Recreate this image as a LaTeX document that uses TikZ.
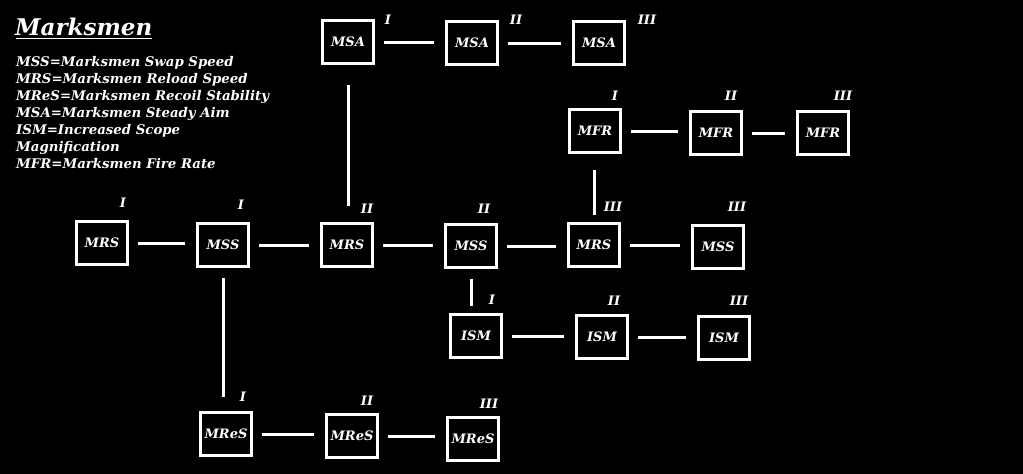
\documentclass[tikz,border=0pt]{standalone}
\usepackage{fontspec}
\setmainfont{DejaVu Serif}
\begin{document}
\begin{tikzpicture}[x=1pt,y=-1pt,
  bx/.style={draw=white,line width=3pt,minimum width=51pt,minimum height=43pt,inner sep=0pt,
    text=white,font=\fontsize{13}{15}\selectfont\bfseries\itshape},
  lvl/.style={text=white,font=\fontsize{13}{15}\selectfont\bfseries\itshape,inner sep=0pt},
  leg/.style={text=white,font=\fontsize{13.3}{15}\selectfont\bfseries\itshape,inner sep=0pt,anchor=base west},
  cn/.style={draw=white,line width=3pt,shorten <=9pt,shorten >=11pt}]
\fill[black] (0,0) rectangle (1023,474);
\useasboundingbox (0,0) rectangle (1023,474);
% title and legend
\node[text=white,font=\fontsize{23}{26}\selectfont\bfseries\itshape,inner sep=0pt,anchor=base west] (title) at (15,35) {Marksmen};
\draw[white,line width=1.8pt] (title.base west)++(1,3.5) coordinate (ul1) -- (ul1 -| title.base east);
\node[leg] (l1) at (16,66) {MSS=Marksmen Swap Speed};
\node[leg] (l2) at (16,83) {MRS=Marksmen Reload Speed};
\node[leg] (l3) at (16,100) {MReS=Marksmen Recoil Stability};
\node[leg] (l4) at (16,117) {MSA=Marksmen Steady Aim};
\node[leg] (l5) at (16,134) {ISM=Increased Scope};
\node[leg] (l6) at (16,151) {Magnification};
\node[leg] (l7) at (16,168) {MFR=Marksmen Fire Rate};
% boxes
\node[bx] (msa1) at (348,42) {MSA};
\node[bx] (msa2) at (472,43) {MSA};
\node[bx] (msa3) at (599,43) {MSA};
\node[bx] (mfr1) at (595,131) {MFR};
\node[bx] (mfr2) at (716,133) {MFR};
\node[bx] (mfr3) at (823,133) {MFR};
\node[bx] (mrs1) at (102,243) {MRS};
\node[bx] (mss1) at (223,245) {MSS};
\node[bx] (mrs2) at (347,245) {MRS};
\node[bx] (mss2) at (471,246) {MSS};
\node[bx] (mrs3) at (594,245) {MRS};
\node[bx] (mss3) at (718,247) {MSS};
\node[bx] (ism1) at (476,336) {ISM};
\node[bx] (ism2) at (602,337) {ISM};
\node[bx] (ism3) at (724,338) {ISM};
\node[bx] (mres1) at (226,434) {MReS};
\node[bx] (mres2) at (352,436) {MReS};
\node[bx] (mres3) at (473,439) {MReS};
% level labels
\node[lvl] (t1) at (388,20) {I};
\node[lvl] (t2) at (516,20) {II};
\node[lvl] (t3) at (647,20) {III};
\node[lvl] (t4) at (615,96) {I};
\node[lvl] (t5) at (731,96) {II};
\node[lvl] (t6) at (843,96) {III};
\node[lvl] (t7) at (123,203) {I};
\node[lvl] (t8) at (241,205) {I};
\node[lvl] (t9) at (367,209) {II};
\node[lvl] (t10) at (484,209) {II};
\node[lvl] (t11) at (613,207) {III};
\node[lvl] (t12) at (737,207) {III};
\node[lvl] (t13) at (492,300) {I};
\node[lvl] (t14) at (614,301) {II};
\node[lvl] (t15) at (739,301) {III};
\node[lvl] (t16) at (243,397) {I};
\node[lvl] (t17) at (367,401) {II};
\node[lvl] (t18) at (489,404) {III};
% connectors
\draw[cn] (msa1.east) -- (msa1.east -| msa2.west);
\draw[cn] (msa2.east) -- (msa2.east -| msa3.west);
\draw[cn,shorten <=20pt,shorten >=16pt] (msa1.south) -- (msa1.south |- mrs2.north);
\draw[cn] (mfr1.east) -- (mfr1.east -| mfr2.west);
\draw[cn] (mfr2.east) -- (mfr2.east -| mfr3.west);
\draw[cn,shorten <=16pt,shorten >=7pt] (mfr1.south -| mrs3.north) -- (mrs3.north);
\draw[cn] (mrs1.east) -- (mrs1.east -| mss1.west);
\draw[cn] (mss1.east) -- (mss1.east -| mrs2.west);
\draw[cn] (mrs2.east) -- (mrs2.east -| mss2.west);
\draw[cn] (mss2.east) -- (mss2.east -| mrs3.west);
\draw[cn] (mrs3.east) -- (mrs3.east -| mss3.west);
\draw[cn,shorten <=10pt,shorten >=7pt] (mss2.south) -- (mss2.south |- ism1.north);
\draw[cn,shorten <=10pt,shorten >=14pt] (mss1.south) -- (mss1.south |- mres1.north);
\draw[cn] (ism1.east) -- (ism1.east -| ism2.west);
\draw[cn] (ism2.east) -- (ism2.east -| ism3.west);
\draw[cn] (mres1.east) -- (mres1.east -| mres2.west);
\draw[cn] (mres2.east) -- (mres2.east -| mres3.west);
\end{tikzpicture}
\end{document}
